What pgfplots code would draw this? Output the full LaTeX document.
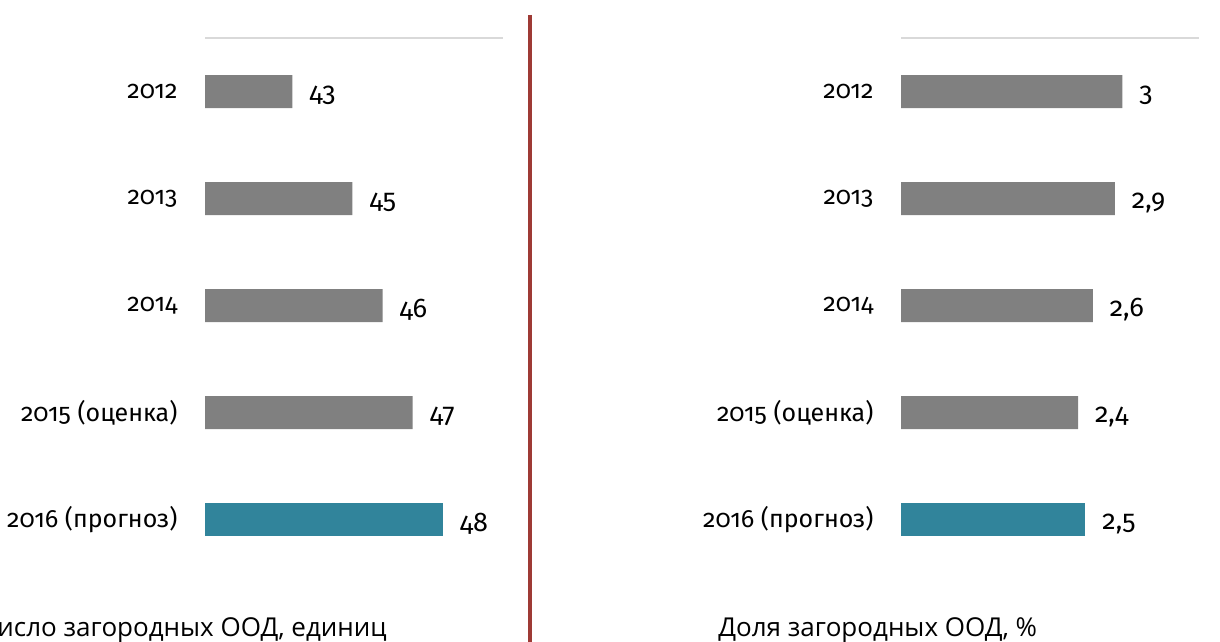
\documentclass[border=0pt]{standalone}
\usepackage{fontspec}
\setmainfont{Fira Sans}[Numbers=OldStyle]
\newfontfamily\capfont{Open Sans}
\usepackage{pgfplots}
\pgfplotsset{compat=1.18}

\definecolor{bargray}{HTML}{808080}
\definecolor{barteal}{HTML}{31849B}
\definecolor{sepred}{HTML}{9E3A35}
\definecolor{topline}{HTML}{D9D9D9}

\pgfplotsset{
  hbars/.style={
    scale only axis, anchor=north west,
    width=149pt, height=267.5pt,
    xbar, bar width=16.5pt, bar shift=0pt,
    ymin=-0.5, ymax=4.5, y dir=reverse,
    axis line style={draw=none}, tick style={draw=none},
    xtick=\empty, ytick={0,1,2,3,4},
    yticklabels={2012,2013,2014,{2015 (оценка)},{2016 (прогноз)}},
    yticklabel style={font=\fontsize{12.5}{14}\selectfont, xshift=-6pt},
    /pgf/number format/assume math mode=true,
    /pgf/number format/use comma,
    nodes near coords,
    nodes near coords style={anchor=west, xshift=5pt, yshift=-2pt,
      font=\fontsize{13.5}{15}\selectfont, text=black},
    clip=false,
  }
}

\begin{document}
\begin{tikzpicture}[x=0.5pt,y=-0.5pt]
\path[use as bounding box] (0,0) rectangle (1220,642);
\clip (0,0) rectangle (1220,642);

% left: count
\begin{axis}[hbars, at={(102.5pt,-19pt)}, xmin=40.1, xmax=50]
\addplot[draw=none, fill=bargray] coordinates {(43,0) (45,1) (46,2) (47,3)};
\addplot[draw=none, fill=barteal] coordinates {(48,4)};
\draw[topline, line width=0.75pt] (axis cs:40.1,-0.5) -- (axis cs:50,-0.5);
\end{axis}

% right: share
\begin{axis}[hbars, at={(450.5pt,-19pt)}, xmin=0, xmax=4.04]
\addplot[draw=none, fill=bargray] coordinates {(3,0) (2.9,1) (2.6,2) (2.4,3)};
\addplot[draw=none, fill=barteal] coordinates {(2.5,4)};
\draw[topline, line width=0.75pt] (axis cs:0,-0.5) -- (axis cs:4.04,-0.5);
\end{axis}

\draw[sepred, line width=2pt] (530,15) -- (530,650);

\node[anchor=base east, inner sep=0pt, font=\capfont\fontsize{13}{15}\selectfont] at (387,636) {Число загородных ООД, единиц};
\node[anchor=base west, inner sep=0pt, font=\capfont\fontsize{13}{15}\selectfont] at (718,636) {Доля загородных ООД, \%};
\end{tikzpicture}
\end{document}
